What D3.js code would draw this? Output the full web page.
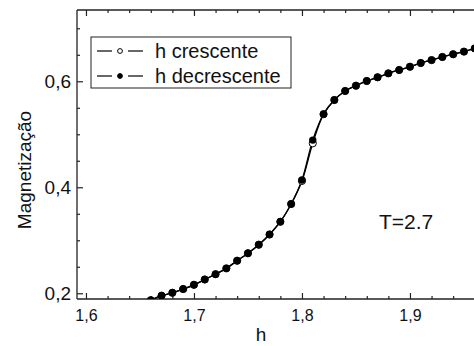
<!DOCTYPE html>
<html>
<head>
<meta charset="utf-8">
<script src="https://cdn.jsdelivr.net/npm/d3@7"></script>
<style>
  html, body { margin: 0; padding: 0; background: #fff; }
  svg { display: block; font-family: "Liberation Sans", Arial, sans-serif; }
</style>
</head>
<body>
<div id="chart"></div>
<script>
// Magnetização vs h, T=2.7 (hysteresis branches)

const hValues = [1.66, 1.67, 1.68, 1.69, 1.70, 1.71, 1.72, 1.73, 1.74, 1.75,
                 1.76, 1.77, 1.78, 1.79, 1.80, 1.81, 1.82, 1.83, 1.84, 1.85,
                 1.86, 1.87, 1.88, 1.89, 1.90, 1.91, 1.92, 1.93, 1.94, 1.95, 1.96];

const mCrescente = [0.187, 0.1955, 0.201, 0.208, 0.216, 0.226, 0.236, 0.247, 0.2615, 0.2755,
                    0.2917, 0.311, 0.335, 0.3685, 0.412, 0.483, 0.538, 0.5647, 0.5817, 0.5917,
                    0.6006, 0.6075, 0.615, 0.6213, 0.6275, 0.6345, 0.640, 0.6458, 0.651, 0.656, 0.662];

const mDecrescente = [0.187, 0.1955, 0.201, 0.208, 0.216, 0.226, 0.236, 0.247, 0.2615, 0.2755,
                      0.2917, 0.311, 0.335, 0.3685, 0.4138, 0.489, 0.538, 0.5647, 0.5817, 0.5917,
                      0.6006, 0.6075, 0.615, 0.6213, 0.6275, 0.6345, 0.640, 0.6458, 0.651, 0.656, 0.662];

const xMajor = [1.6, 1.7, 1.8, 1.9];
const yMajor = [0.2, 0.4, 0.6];
const legendLabels = ["h crescente", "h decrescente"];

const W = 474, H = 346;
const margin = { left: 77, top: 10, right: 0, bottom: 47 };
const pw = W - margin.left - margin.right;
const ph = H - margin.top - margin.bottom;

const svg = d3.select("#chart").append("svg")
    .attr("width", W).attr("height", H);

const x = d3.scaleLinear().domain([1.5917, 1.9593]).range([0, pw]);
const y = d3.scaleLinear().domain([0.1892, 0.7345]).range([ph, 0]);

const fmt = d => d3.format(".1f")(d).replace(".", ",");

svg.append("defs").append("clipPath").attr("id", "plotClip")
    .append("rect").attr("width", pw).attr("height", ph);

const g = svg.append("g").attr("transform", `translate(${margin.left},${margin.top})`);

// --- AXES (ticks point inward) ---
const xMinor = d3.range(1.60, 1.96, 0.02).filter(v => !xMajor.some(m => Math.abs(m - v) < 1e-6));
const yMinor = d3.range(0.20, 0.74, 0.05).filter(v => !yMajor.some(m => Math.abs(m - v) < 1e-6));

const axisStyle = sel => {
    sel.select(".domain").remove();
    sel.selectAll("line").attr("stroke", "#222").attr("stroke-width", 1.2);
    sel.selectAll("text").attr("fill", "#111").attr("font-family", "Liberation Sans, Arial, sans-serif");
};

// bottom
g.append("g").attr("transform", `translate(0,${ph})`)
    .call(d3.axisBottom(x).tickValues(xMajor).tickFormat(fmt).tickSizeInner(-6).tickSizeOuter(0).tickPadding(11))
    .call(axisStyle)
    .call(s => s.selectAll("text").attr("font-size", 16));
g.append("g").attr("transform", `translate(0,${ph})`)
    .call(d3.axisBottom(x).tickValues(xMinor).tickFormat("").tickSizeInner(-3).tickSizeOuter(0))
    .call(axisStyle);

// top
g.append("g")
    .call(d3.axisTop(x).tickValues(xMajor).tickFormat("").tickSizeInner(-6).tickSizeOuter(0))
    .call(axisStyle);
g.append("g")
    .call(d3.axisTop(x).tickValues(xMinor).tickFormat("").tickSizeInner(-3).tickSizeOuter(0))
    .call(axisStyle);

// left
g.append("g")
    .call(d3.axisLeft(y).tickValues(yMajor).tickFormat(fmt).tickSizeInner(-6).tickSizeOuter(0).tickPadding(6))
    .call(axisStyle)
    .call(s => s.selectAll("text").attr("font-size", 19).attr("x", -6).attr("dy", "0.35em"));
g.append("g")
    .call(d3.axisLeft(y).tickValues(yMinor).tickFormat("").tickSizeInner(-3).tickSizeOuter(0))
    .call(axisStyle);

// frame lines
g.append("line").attr("x1", 0).attr("x2", 0).attr("y1", 0).attr("y2", ph)
    .attr("stroke", "#222").attr("stroke-width", 1.3);
g.append("line").attr("x1", 0).attr("x2", pw).attr("y1", ph).attr("y2", ph)
    .attr("stroke", "#222").attr("stroke-width", 1.3);
g.append("line").attr("x1", 0).attr("x2", pw).attr("y1", 0).attr("y2", 0)
    .attr("stroke", "#222").attr("stroke-width", 1.3);

// --- AXIS TITLES ---
svg.append("text").attr("x", 261).attr("y", 341)
    .attr("text-anchor", "middle").attr("font-size", 19).attr("fill", "#111").text("h");
svg.append("text").attr("transform", "translate(31,170) rotate(-90)")
    .attr("text-anchor", "middle").attr("font-size", 19).attr("fill", "#111").text("Magnetização");

// --- DATA ---
const plot = g.append("g").attr("clip-path", "url(#plotClip)");
const line = d3.line().x(d => x(d[0])).y(d => y(d[1])).curve(d3.curveCatmullRom.alpha(0.5));

const upData = hValues.map((h, i) => [h, mCrescente[i]]);
const downData = hValues.map((h, i) => [h, mDecrescente[i]]);

plot.append("path").datum(upData).attr("d", line)
    .attr("fill", "none").attr("stroke", "#000").attr("stroke-width", 1.3);
plot.append("path").datum(downData).attr("d", line)
    .attr("fill", "none").attr("stroke", "#000").attr("stroke-width", 1.3);

plot.append("g").selectAll("circle").data(upData).join("circle")
    .attr("cx", d => x(d[0])).attr("cy", d => y(d[1])).attr("r", 3.6)
    .attr("fill", "#fff").attr("stroke", "#000").attr("stroke-width", 1);
plot.append("g").selectAll("circle").data(downData).join("circle")
    .attr("cx", d => x(d[0])).attr("cy", d => y(d[1])).attr("r", 3.7)
    .attr("fill", "#000");

// --- ANNOTATION ---
svg.append("text").attr("x", 379).attr("y", 229)
    .attr("font-size", 21).attr("fill", "#111").text("T=2.7");

// --- LEGEND ---
const legend = svg.append("g");
legend.append("rect").attr("x", 91).attr("y", 37).attr("width", 200).attr("height", 51)
    .attr("fill", "#fff").attr("stroke", "#222").attr("stroke-width", 1);

legendLabels.forEach((label, i) => {
    const cy = 51 + i * 25;
    legend.append("line").attr("x1", 97).attr("x2", 112).attr("y1", cy).attr("y2", cy)
        .attr("stroke", "#000").attr("stroke-width", 1.2);
    legend.append("line").attr("x1", 128).attr("x2", 143).attr("y1", cy).attr("y2", cy)
        .attr("stroke", "#000").attr("stroke-width", 1.2);
    legend.append("circle").attr("cx", 120).attr("cy", cy).attr("r", 2.4)
        .attr("fill", i === 0 ? "#fff" : "#000").attr("stroke", "#000").attr("stroke-width", 1);
    legend.append("text").attr("x", 155).attr("y", cy).attr("dy", "0.36em")
        .attr("font-size", 20).attr("fill", "#111").text(label);
});
</script>
</body>
</html>
